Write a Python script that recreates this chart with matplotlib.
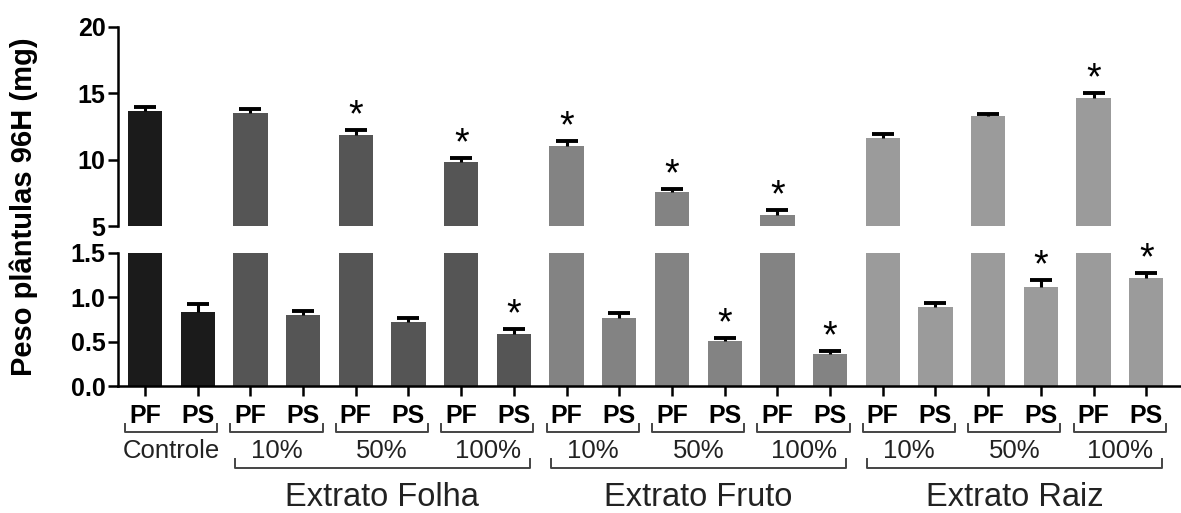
import matplotlib
matplotlib.use("Agg")
import matplotlib.pyplot as plt
import matplotlib.transforms as mtransforms
import numpy as np

plt.rcParams['font.family'] = ['Liberation Sans', 'DejaVu Sans']

# ---- data ----
groups = ["Controle", "Extrato Folha", "Extrato Folha", "Extrato Folha",
          "Extrato Fruto", "Extrato Fruto", "Extrato Fruto",
          "Extrato Raiz", "Extrato Raiz", "Extrato Raiz"]
doses = ["Controle", "10%", "50%", "100%", "10%", "50%", "100%", "10%", "50%", "100%"]
pf_mean = [13.7, 13.55, 11.85, 9.8, 11.0, 7.6, 5.85, 11.6, 13.3, 14.65]
pf_err = [0.25, 0.25, 0.35, 0.35, 0.4, 0.2, 0.35, 0.3, 0.15, 0.35]
pf_sig = [False, False, True, True, True, True, True, False, False, True]
ps_mean = [0.84, 0.80, 0.725, 0.59, 0.77, 0.505, 0.36, 0.89, 1.12, 1.22]
ps_err = [0.08, 0.05, 0.045, 0.05, 0.055, 0.04, 0.03, 0.05, 0.07, 0.05]
ps_sig = [False, False, False, True, False, True, True, False, True, True]
bar_labels = ["PF", "PS"]
extracts = ["Extrato Folha", "Extrato Fruto", "Extrato Raiz"]
colors_by_group = {"Controle": "#1b1b1b", "Extrato Folha": "#555555",
                   "Extrato Fruto": "#838383", "Extrato Raiz": "#9b9b9b"}
top_ticks = [5, 10, 15, 20]
bottom_ticks = [0.0, 0.5, 1.0, 1.5]

# ---- build bar arrays ----
n = len(doses)
x = np.arange(2 * n)
vals, errs, cols, sig, kinds = [], [], [], [], []
for i in range(n):
    for k, (m, e, s) in enumerate([(pf_mean[i], pf_err[i], pf_sig[i]),
                                    (ps_mean[i], ps_err[i], ps_sig[i])]):
        vals.append(m); errs.append(e); sig.append(s); kinds.append(k)
        cols.append(colors_by_group[groups[i]])
vals = np.array(vals); errs = np.array(errs)

W, H = 1181, 513
fig = plt.figure(figsize=(W / 100, H / 100), dpi=100)

def fx(px):
    return px / W

def fy(py):
    return 1 - py / H

left = fx(118); right = fx(1180)
ax_top = fig.add_axes([left, fy(226), right - left, fy(27) - fy(226)])
ax_bot = fig.add_axes([left, fy(386), right - left, fy(253) - fy(386)])

bw = 0.65
xl = (-0.512, 19.64)
for ax in (ax_top, ax_bot):
    ax.bar(x, vals, width=bw, color=cols, edgecolor='none', zorder=2)
    # upper-only error bars: stem + cap
    ax.vlines(x, vals, vals + errs, colors='black', linewidth=2.2, zorder=3)
    ax.plot(x, vals + errs, linestyle='none', marker='_', markersize=16.5,
            markeredgewidth=2.8, color='black', zorder=3)
    ax.set_xlim(*xl)
    for s in ("top", "right"):
        ax.spines[s].set_visible(False)
    ax.spines["left"].set_linewidth(1.8)
    ax.spines["bottom"].set_linewidth(1.8)
    ax.tick_params(axis='y', direction='out', length=7, width=1.8, pad=2)

ax_top.set_ylim(5, 20)
ax_top.set_yticks(top_ticks)
ax_top.set_yticklabels([str(t) for t in top_ticks], fontweight='bold', fontsize=18)
ax_top.spines["bottom"].set_visible(False)
ax_top.set_xticks([])

ax_bot.set_ylim(0, 1.5)
ax_bot.set_yticks(bottom_ticks)
ax_bot.set_yticklabels([f"{t:.1f}" for t in bottom_ticks], fontweight='bold', fontsize=18)
ax_bot.set_xticks(x)
ax_bot.set_xticklabels([bar_labels[k] for k in kinds], fontweight='bold', fontsize=18)
ax_bot.tick_params(axis='x', direction='out', length=7, width=1.8, pad=6)

# asterisks
for xi, v, e, s, k in zip(x, vals, errs, sig, kinds):
    if not s:
        continue
    ax = ax_top if k == 0 else ax_bot
    ax.annotate("*", (xi, v + e), xytext=(0, -3), textcoords='offset points',
                ha='center', va='bottom', fontsize=27, color='black', zorder=4)

# y label
fig.text(fx(24), fy(207), "Peso plântulas 96H (mg)", rotation=90,
         ha='center', va='center', fontsize=21, fontweight='bold')

# brackets
tr = mtransforms.blended_transform_factory(ax_bot.transData, fig.transFigure)
for i in range(n):
    x0 = 2 * i - 0.38
    x1 = 2 * i + 1 + 0.37
    ax_bot.plot([x0, x0, x1, x1], [fy(424), fy(432), fy(432), fy(424)],
                transform=tr, color='#444444', lw=1.4, clip_on=False)
    ax_bot.text(2 * i + 0.5, fy(451), doses[i], transform=tr, ha='center',
                va='center', fontsize=18.5, color='#222222')

for j, ext in enumerate(extracts):
    idx = [i for i in range(n) if groups[i] == ext]
    x0 = 2 * idx[0] - 0.3
    x1 = 2 * idx[-1] + 1 + 0.3
    ax_bot.plot([x0, x0, x1, x1], [fy(459), fy(468), fy(468), fy(459)],
                transform=tr, color='#444444', lw=1.4, clip_on=False)
    ax_bot.text((2 * idx[0] + 2 * idx[-1] + 1) / 2, fy(498), ext, transform=tr,
                ha='center', va='center', fontsize=23.5, color='#222222')

fig.savefig("out.png", dpi=100)
